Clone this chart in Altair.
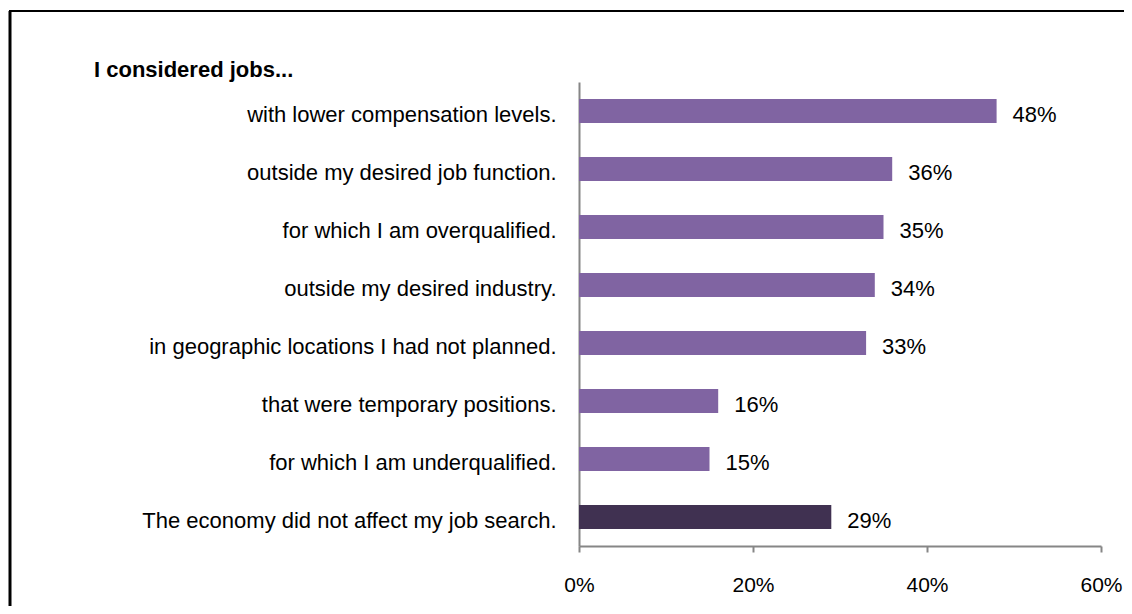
import altair as alt
import pandas as pd

categories = [
    "with lower compensation levels.",
    "outside my desired job function.",
    "for which I am overqualified.",
    "outside my desired industry.",
    "in geographic locations I had not planned.",
    "that were temporary positions.",
    "for which I am underqualified.",
    "The economy did not affect my job search.",
]
values = [48, 36, 35, 34, 33, 16, 15, 29]
groups = ["considered"] * 7 + ["not affected"]
tick_values = [0, 20, 40, 60]
title_text = ["I considered  jobs..."]

df = pd.DataFrame({"cat": categories, "value": values, "group": groups})
df["label"] = df["value"].astype(str) + "%"

FONT = "Liberation Sans"
GRAY = "#868686"

y_enc = alt.Y(
    "cat:N",
    sort=categories,
    scale=alt.Scale(paddingInner=0.586, paddingOuter=0.293),
    axis=alt.Axis(
        title=None, ticks=False, tickSize=0, labelPadding=23, labelOffset=4,
        labelFont=FONT, labelFontSize=22, labelColor="#000000", labelLimit=600,
        domainColor=GRAY, domainWidth=2,
    ),
)
x_enc = alt.X(
    "value:Q",
    scale=alt.Scale(domain=[0, 60], nice=False),
    axis=alt.Axis(
        title=None, values=tick_values, grid=False, tickSize=6, tickColor=GRAY,
        tickWidth=2, domainColor=GRAY, domainWidth=2, labelPadding=22,
        labelFlush=False, labelFont=FONT, labelFontSize=21, labelColor="#000000",
        labelExpr="datum.value + '%'",
    ),
)

base = alt.Chart(df)
bars = base.mark_bar().encode(
    y=y_enc,
    x=x_enc,
    color=alt.Color(
        "group:N",
        scale=alt.Scale(domain=["considered", "not affected"], range=["#8064A2", "#403151"]),
        legend=None,
    ),
)
labels = base.mark_text(
    align="left", baseline="middle", dx=16, dy=4, font=FONT, fontSize=22, color="#000000"
).encode(y=alt.Y("cat:N", sort=categories), x="value:Q", text="label:N")

one = pd.DataFrame({"a": [0]})
title = alt.Chart(pd.DataFrame({"t": title_text})).mark_text(
    align="left", baseline="alphabetic", font=FONT, fontSize=22, fontWeight="bold", color="#000000"
).encode(x=alt.value(-485), y=alt.value(-5), text="t:N")

left_border = alt.Chart(one).mark_rule(color="#000000", strokeWidth=3).encode(
    x=alt.value(-569), y=alt.value(-71), y2=alt.value(600)
)
top_border = alt.Chart(one).mark_rule(color="#000000", strokeWidth=2).encode(
    x=alt.value(-570), x2=alt.value(700), y=alt.value(-71)
)

chart = (
    alt.layer(bars, labels, title, left_border, top_border)
    .properties(
        width=522,
        height=464,
        background="#ffffff",
        autosize=alt.AutoSizeParams(type="none"),
        padding={"left": 571, "top": 74, "right": 23, "bottom": 60},
    )
    .configure_view(strokeWidth=0, stroke="transparent")
)

chart.save("out.html", embed_options={"renderer": "svg", "actions": False})
